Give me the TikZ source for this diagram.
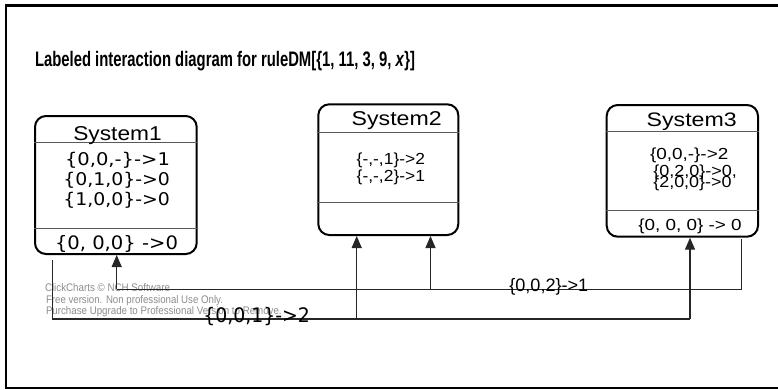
\documentclass[tikz,border=0pt]{standalone}
\usepackage{fontspec}
\setmainfont{Liberation Sans}
\newfontfamily\dvs{DejaVu Sans}
\usetikzlibrary{arrows.meta}
% #1 target width, #2 font size, #3 text: scale horizontally only
\newcommand{\fitx}[3]{\resizebox{#1pt}{\height}{\fontsize{#2}{#2}\selectfont #3}}
\begin{document}
\begin{tikzpicture}[x=1pt,y=-1pt,
  box/.style={draw=black, line width=2pt, rounded corners=11pt, inner sep=0pt},
  sepline/.style={draw=black!65, line width=0.9pt},
  txt/.style={anchor=base west, inner sep=0pt, outer sep=0pt},
  conn/.style={draw=black!85, line width=1.2pt},
  arr/.style={conn, -{Triangle[width=10pt,length=12pt]}},
  wm/.style={txt, text=black!45}]
\useasboundingbox (0,0) rectangle (778,389);
\clip (0,0) rectangle (778,389);
% frame
\draw[line width=2.5pt] (6.2,5.3) rectangle (790,388);
% title
\node[txt] (title) at (35,66.7) {\fitx{380}{21}{\bfseries Labeled interaction diagram for ruleDM[\{1, 11, 3, 9, \textit{x}\}]}};
% boxes
\node[box, minimum width=161.7pt, minimum height=138pt] (s1) at (115.85,185) {};
\node[box, minimum width=140pt, minimum height=130.7pt] (s2) at (388.3,169.65) {};
\node[box, minimum width=151.3pt, minimum height=131.7pt] (s3) at (682.35,170.85) {};
% separators
\draw[sepline] (s1.west |- 0,142.3) -- (s1.east |- 0,142.3);
\draw[sepline] (s1.west |- 0,228.3) -- (s1.east |- 0,228.3);
\draw[sepline] (s2.west |- 0,132.3) -- (s2.east |- 0,132.3);
\draw[sepline] (s2.west |- 0,202.3) -- (s2.east |- 0,202.3);
\draw[sepline] (s3.west |- 0,131.7) -- (s3.east |- 0,131.7);
\draw[sepline] (s3.west |- 0,210.7) -- (s3.east |- 0,210.7);
% System1 texts
\node[txt] (h1) at (73.3,140) {\fitx{88.4}{20}{System1}};
\node[txt] (a1) at (65,165) {\fitx{105}{17.5}{\dvs \{0,0,-\}->1}};
\node[txt] (a2) at (63.3,185) {\fitx{106.7}{17.5}{\dvs \{0,1,0\}->0}};
\node[txt] (a3) at (63.3,205) {\fitx{106.7}{17.5}{\dvs \{1,0,0\}->0}};
\node[txt] (a4) at (55,249.3) {\fitx{123}{18.5}{\dvs \{0, 0,0\} ->0}};
% System2 texts
\node[txt] (h2) at (351.7,125) {\fitx{90}{20}{System2}};
\node[txt] (b1) at (356.7,164.3) {\fitx{68.3}{16}{\{-,-,1\}->2}};
\node[txt] (b2) at (356.7,181.5) {\fitx{68.3}{16}{\{-,-,2\}->1}};
% System3 texts
\node[txt] (h3) at (646.7,126) {\fitx{90}{19.5}{System3}};
\node[txt] (c1) at (650,159.3) {\fitx{78.3}{16}{\{0,0,-\}->2}};
\node[txt] (c2) at (653.3,176.7) {\fitx{83.7}{16}{\{0,2,0\}->0,}};
\node[txt] (c3) at (653.3,187.3) {\fitx{78.3}{16}{\{2,0,0\}->0}};
\node[txt] (c4) at (638.3,230) {\fitx{103.3}{16}{\{0, 0, 0\} -> 0}};
% watermark
\node[wm] (w1) at (45,291.7) {\fitx{125}{11}{ClickCharts © NCH Software}};
\node[wm] (w2) at (46,303.3) {\fitx{177}{11}{Free version. Non professional Use Only.}};
\node[wm] (w3) at (46,314) {\fitx{235.7}{11}{Purchase Upgrade to Professional Version to Remove.}};
% connector coordinates
\coordinate (s1o) at (52.3,260);
\coordinate (j1) at (52.3,319);
\coordinate (j1b) at (356.7,319);
\coordinate (j1c) at (690,319);
\coordinate (s3o) at (741.7,239.3);
\coordinate (j2) at (741.7,289.3);
\coordinate (j2b) at (430.5,289.3);
\coordinate (j2c) at (116.7,289.3);
% connector 1
\draw[conn] (s1o) -- (j1) -- (j1c);
\draw[arr] (j1b) -- (j1b |- s2.south);
\draw[arr] (j1c) -- (j1c |- s3.south);
% connector 2
\draw[conn] (s3o) -- (j2) -- (j2c);
\draw[arr] (j2b) -- (j2b |- s2.south);
\draw[arr] (j2c) -- (j2c |- s1.south);
% labels
\node[txt] (l1) at (203.3,322.7) {\fitx{106.7}{20}{\dvs \{0,0,1\}->2}};
\node[txt] (l2) at (509.3,291.7) {\fitx{79}{18}{\{0,0,2\}->1}};
\end{tikzpicture}
\end{document}
